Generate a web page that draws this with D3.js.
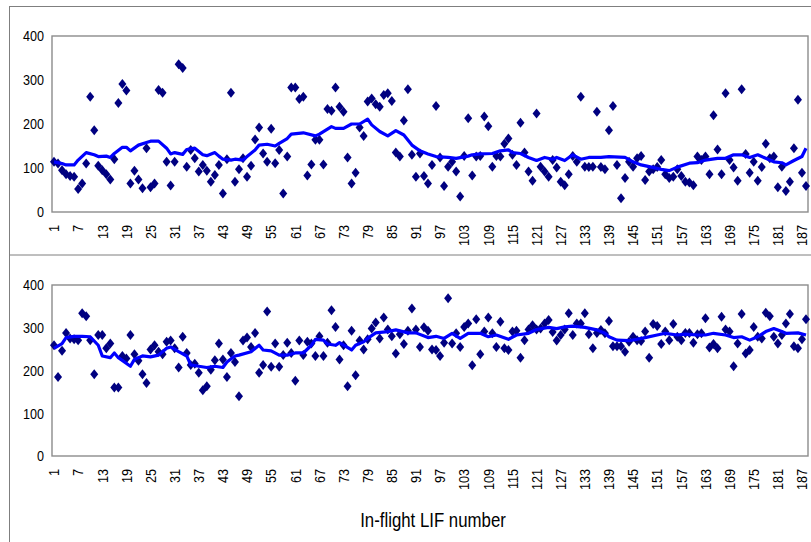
<!DOCTYPE html>
<meta charset="utf-8">
<style>
  body { margin: 0; background: #fff; }
  svg { display: block; }
  .lbl { font-family: "Liberation Sans Narrow", "Arial Narrow", "Liberation Sans", Arial, sans-serif; font-size: 15px; fill: #000; }
</style>
<body>
<script src="https://d3js.org/d3.v7.min.js"></script>
<script>
// LIF values, top panel (categories 1..188)
const topVals = [114,110,95,86,82,80,52,65,110,262, 186,105,95,86,74,120,248,291,276,65,
  94,74,54,145,56,65,277,271,114,60, 114,336,327,103,141,122,92,107,94,69,
  84,107,42,120,271,69,97,122,80,105, 165,192,133,114,189,111,141,42,126,283,
  283,257,262,83,108,164,164,108,234,230, 283,239,228,124,65,89,192,173,251,258,
  245,239,266,270,252,135,126,208,279,130, 80,133,82,65,107,241,124,59,103,114,
  92,35,127,213,83,126,127,217,195,103, 127,126,155,167,130,107,203,135,92,71,
  224,103,92,80,118,101,69,61,86,127, 114,262,103,102,103,228,102,97,186,241,
  107,31,77,114,103,122,127,73,92,97, 102,118,86,77,80,97,82,69,67,61,
  126,118,126,86,220,142,86,270,118,101, 71,279,132,89,114,71,102,155,122,126,
  56,103,48,69,145,255,89,59];

// LIF values, bottom panel
const botVals = [259,185,246,288,275,273,271,334,327,271, 191,283,283,252,263,160,160,234,228,283,
  238,223,191,171,249,259,244,238,267,270, 252,207,279,241,213,216,195,154,163,202,
  224,263,226,185,241,220,140,270,277,255, 288,195,213,338,209,263,209,236,265,241,
  176,270,236,267,263,234,280,234,265,341, 302,226,259,163,293,189,270,249,273,298,
  312,275,324,296,280,240,285,262,293,345, 296,255,301,293,249,248,234,265,369,263,
  287,255,302,310,212,320,238,291,324,287, 255,314,252,248,291,293,230,271,296,306,
  296,298,310,318,290,270,283,296,334,283, 310,310,334,285,252,288,295,287,316,257,
  257,257,244,267,279,271,269,291,230,309, 304,262,291,271,309,279,271,288,288,265,
  285,287,322,254,262,252,326,296,291,210, 263,332,240,248,302,279,275,335,327,279,
  263,283,310,332,257,252,273,320];

// moving-average line, read at its bends: [category, value]
const topAvg = [[1,114],[3,110],[4,107],[6,107],[7,118],[9,135],[11,130],[12,126],[14,127],[15,124],
  [16,133],[18,147],[19,147],[20,139],[22,152],[24,158],[25,161],[27,161],[29,145],[30,132],
  [31,135],[33,131],[34,142],[36,145],[38,130],[39,128],[41,135],[42,127],[43,120],[45,118],
  [46,120],[48,118],[49,126],[51,141],[52,152],[54,154],[56,150],[57,156],[59,167],[60,177],
  [63,180],[66,173],[67,177],[70,194],[71,190],[73,190],[75,200],[77,200],[79,211],[80,198],
  [82,183],[84,173],[86,185],[88,175],[90,152],[92,139],[94,132],[96,126],[99,124],[101,122],
  [104,127],[105,130],[107,132],[110,133],[112,139],[114,141],[115,135],[117,133],[119,124],[121,117],
  [123,124],[125,120],[126,124],[128,117],[130,130],[132,120],[134,124],[137,124],[139,126],[143,124],
  [145,114],[147,107],[149,103],[152,97],[154,94],[156,102],[159,111],[161,112],[163,118],[166,122],
  [168,122],[170,130],[172,130],[174,124],[176,130],[178,122],[180,114],[182,112],[183,107],[185,117],
  [187,126],[188,145]];

const botAvg = [[1,252],[3,263],[4,277],[6,280],[8,280],[10,279],[12,259],[13,234],[15,230],[16,241],
  [17,230],[20,210],[21,226],[23,234],[25,232],[27,236],[29,252],[30,255],[32,244],[34,234],
  [35,213],[37,210],[39,207],[41,210],[43,207],[44,220],[46,234],[47,236],[50,244],[52,259],
  [53,248],[55,246],[57,236],[59,236],[61,241],[63,241],[65,259],[66,273],[68,271],[69,262],
  [71,259],[72,265],[75,248],[76,259],[78,267],[79,275],[81,288],[84,291],[86,295],[89,288],
  [91,288],[94,277],[96,280],[98,275],[100,287],[102,275],[104,287],[107,287],[109,279],[111,283],
  [114,273],[116,283],[119,287],[121,296],[124,301],[126,298],[128,302],[130,304],[133,301],[136,295],
  [138,287],[139,279],[141,271],[144,270],[146,273],[148,277],[151,283],[153,287],[156,283],[158,285],
  [161,283],[163,283],[165,287],[168,283],[170,277],[172,279],[174,271],[176,279],[178,291],[180,298],
  [182,291],[183,287],[186,288],[188,283]];

const cats = d3.range(1, topVals.length + 1);
const xTicks = cats.filter(c => (c - 1) % 6 === 0);
const yTicks = [0, 100, 200, 300, 400];
const xTitle = 'In-flight LIF number';

const W = 811, H = 542;
const svg = d3.select('body').append('svg').attr('width', W).attr('height', H);

// chart-area borders
svg.append('rect').attr('x', 9.5).attr('y', 6.5).attr('width', 820).attr('height', 248.5)
  .attr('fill', 'none').attr('stroke', '#7f7f7f');
svg.append('line').attr('x1', 9.5).attr('x2', 9.5).attr('y1', 255).attr('y2', H)
  .attr('stroke', '#7f7f7f');

const x = d3.scaleBand().domain(cats).range([52, 808]);
const cx = c => x(c) + x.bandwidth() / 2;
const diamond = 'M0,-5L4,0L0,5L-4,0Z';

// squeeze text to look like a narrow face
function narrow(sel, k) {
  sel.each(function() {
    const w = this.getComputedTextLength();
    d3.select(this).attr('textLength', w * k).attr('lengthAdjust', 'spacingAndGlyphs');
  });
}

function panel(vals, avg, top, bottom) {
  const y = d3.scaleLinear().domain([0, 400]).range([bottom, top]);
  const g = svg.append('g');

  g.append('rect').attr('x', 52).attr('y', top).attr('width', 756).attr('height', bottom - top)
    .attr('fill', '#fff').attr('stroke', '#8c8c8c').attr('stroke-width', 1.4);

  const ya = g.append('g').attr('transform', 'translate(52,0)')
    .call(d3.axisLeft(y).tickValues(yTicks).tickSize(0).tickPadding(8));
  ya.select('.domain').remove();
  ya.selectAll('text').attr('class', 'lbl').attr('font-family', null).attr('font-size', null)
    .call(narrow, 0.84);

  const xa = g.append('g').attr('transform', `translate(0,${bottom})`)
    .call(d3.axisBottom(x).tickValues(xTicks).tickSize(0));
  xa.select('.domain').remove();
  xa.selectAll('text').attr('class', 'lbl').attr('font-family', null).attr('font-size', null)
    .attr('transform', 'rotate(-90)').attr('text-anchor', 'end')
    .attr('x', -13).attr('y', 0).attr('dy', '0.35em')
    .call(narrow, 0.84);

  g.append('g').selectAll('path').data(vals).join('path')
    .attr('d', diamond)
    .attr('transform', (d, i) => `translate(${cx(i + 1)},${y(d)})`)
    .attr('fill', '#000080');

  g.append('path').datum(avg)
    .attr('d', d3.line().x(d => cx(d[0])).y(d => y(d[1])))
    .attr('fill', 'none').attr('stroke', '#0000ff').attr('stroke-width', 3.2)
    .attr('stroke-linejoin', 'round');
}

panel(topVals, topAvg, 36, 212);
panel(botVals, botAvg, 285, 456);

svg.append('text').attr('x', 433).attr('y', 527).attr('text-anchor', 'middle')
  .attr('class', 'lbl').style('font-size', '21px').text(xTitle)
  .call(narrow, 0.8);
</script>
</body>
</html>
